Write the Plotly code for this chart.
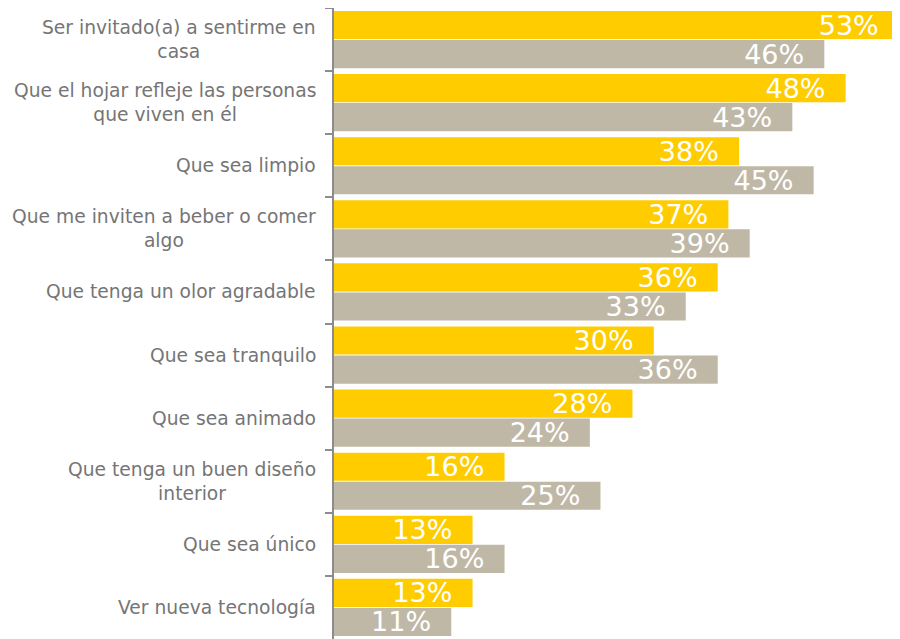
import plotly.graph_objects as go

categories = [
    "Ser invitado(a) a sentirme en<br>casa",
    "Que el hojar refleje las personas<br>que viven en él",
    "Que sea limpio",
    "Que me inviten a beber o comer<br>algo",
    "Que tenga un olor agradable",
    "Que sea tranquilo",
    "Que sea animado",
    "Que tenga un buen diseño<br>interior",
    "Que sea único",
    "Ver nueva tecnología",
]
series_a = [53, 48, 38, 37, 36, 30, 28, 16, 13, 13]
series_b = [46, 43, 45, 39, 33, 36, 24, 25, 16, 11]

colors = ["#FFCC00", "#BFB8A6"]

fig = go.Figure()
for vals, col in zip([series_a, series_b], colors):
    fig.add_trace(go.Bar(
        y=categories, x=vals, orientation="h",
        marker=dict(color=col, line=dict(width=0)),
        text=[f"{v}%\u00a0\u00a0" for v in vals],
        textposition="inside", insidetextanchor="end",
        constraintext="none",
        textfont=dict(color="white", size=27, family="DejaVu Sans"),
        hoverinfo="skip",
    ))

for cat in categories:
    fig.add_annotation(
        x=0, xref="paper", y=cat, yref="y",
        text=cat, showarrow=False, xanchor="right", align="center",
        xshift=-16, font=dict(size=18.7, color="#757575", family="DejaVu Sans"),
    )

fig.update_layout(
    width=892, height=631,
    barmode="group", bargap=0.08, bargroupgap=0.03,
    margin=dict(l=326, r=0, t=0, b=0),
    plot_bgcolor="white", paper_bgcolor="white",
    showlegend=False,
    font=dict(family="DejaVu Sans", size=18, color="#757575"),
    xaxis=dict(range=[0, 53.1], visible=False, fixedrange=True),
    yaxis=dict(autorange="reversed", showline=True, linecolor="#8c8c8c", linewidth=2,
               ticks="outside", tickson="boundaries", ticklen=7, tickcolor="#8c8c8c",
               tickwidth=1.5, showgrid=False, showticklabels=False),
)

fig.write_html("out.html")
